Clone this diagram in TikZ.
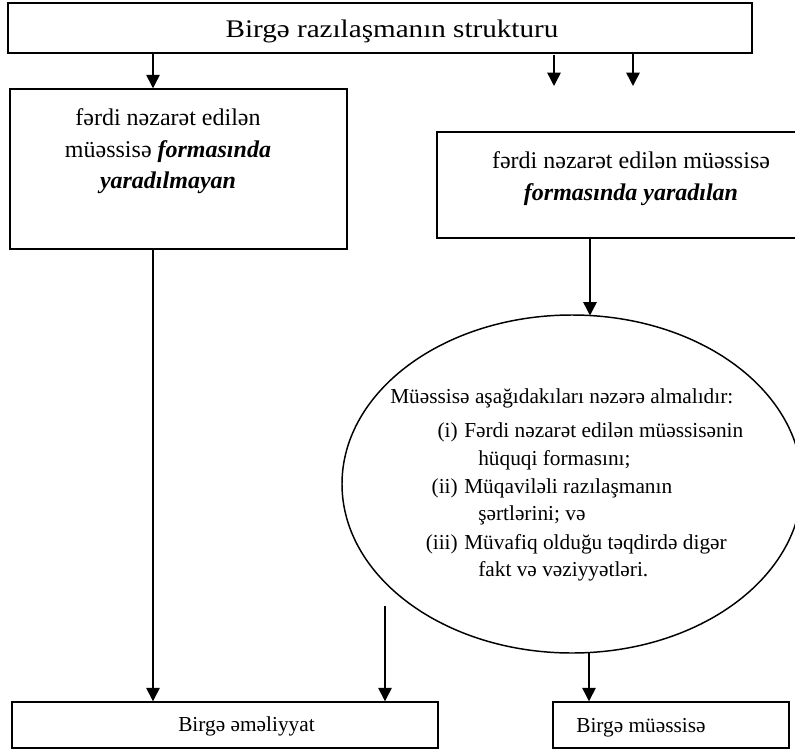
\documentclass[tikz,border=0pt]{standalone}
\usepackage{fontspec}
\setmainfont{Liberation Serif}
\usetikzlibrary{arrows.meta,shapes.geometric}
\begin{document}
\begin{tikzpicture}[x=0.75pt,y=-0.75pt,
  box/.style={draw,line width=1.1pt,rectangle,inner sep=0pt,anchor=center},
  txt/.style={inner sep=0pt,anchor=base},
  txtw/.style={inner sep=0pt,anchor=base west},
  txte/.style={inner sep=0pt,anchor=base east},
  big/.style={font=\fontsize{18}{22}\selectfont},
  mid/.style={font=\fontsize{16}{19}\selectfont},
  arr/.style={line width=1.1pt,-{Triangle[length=10pt,width=10pt]}}]
\useasboundingbox (0,0) rectangle (795,749);
% boxes
\node[box,minimum width=558pt,minimum height=37.5pt] (top) at (380,28) {};
\node[box,minimum width=252.75pt,minimum height=120pt] (lb) at (178.5,169) {};
\node[box,minimum width=294.75pt,minimum height=79.5pt] (rb) at (633.5,185) {};
\node[draw,line width=1.1pt,ellipse,inner sep=0pt,minimum width=345pt,minimum height=253.5pt] (el) at (572,484) {};
\node[box,minimum width=319.5pt,minimum height=34.5pt] (bl) at (225,725) {};
\node[box,minimum width=177pt,minimum height=34.5pt] (br) at (671,725) {};
% texts
\node[txt] (tt) at (392,38) {\scalebox{1.15}[1]{\fontsize{19}{23}\selectfont Birgə razılaşmanın strukturu}};
\node[txt,big] (l1) at (168,125) {fərdi nəzarət edilən};
\node[txt,big] (l2) at (168,157) {müəssisə \textbf{\textit{formasında}}};
\node[txt,big] (l3) at (168,188) {\textbf{\textit{yaradılmayan}}};
\node[txt,big] (r1) at (631,168) {fərdi nəzarət edilən müəssisə};
\node[txt,big] (r2) at (631,200) {\textbf{\textit{formasında yaradılan}}};
\node[txtw,mid] (e0) at (390,403) {Müəssisə aşağıdakıları nəzərə almalıdır:};
\node[txte,mid] (e1n) at (458,437) {(i)};
\node[txtw,mid] (e1) at (464,437) {Fərdi nəzarət edilən müəssisənin};
\node[txtw,mid] (e1b) at (478,465) {hüquqi formasını;};
\node[txte,mid] (e2n) at (458,493) {(ii)};
\node[txtw,mid] (e2) at (464,493) {Müqaviləli razılaşmanın};
\node[txtw,mid] (e2b) at (478,520) {şərtlərini; və};
\node[txte,mid] (e3n) at (458,549) {(iii)};
\node[txtw,mid] (e3) at (464,549) {Müvafiq olduğu təqdirdə digər};
\node[txtw,mid] (e3b) at (478,576) {fakt və vəziyyətləri.};
\node[txtw,mid] (b1) at (178,731) {Birgə əməliyyat};
\node[txtw,mid] (b2) at (576,732) {Birgə müəssisə};
% connector coordinates
\coordinate (xa) at (153,0);
\coordinate (f1s) at (554,55);
\coordinate (f1e) at (554,86);
\coordinate (xb) at (633,0);
\coordinate (f2e) at (633,86);
\coordinate (xc) at (590,0);
\coordinate (elin) at (590,315.5);
\coordinate (f3s) at (385,606);
\coordinate (elout) at (589,652.5);
% connectors
\draw[arr] (top.south -| xa) -- (lb.north -| xa);
\draw[arr] (f1s) -- (f1e);
\draw[arr] (top.south -| xb) -- (f2e);
\draw[arr] (rb.south -| xc) -- (elin);
\draw[arr] (lb.south -| xa) -- (bl.north -| xa);
\draw[arr] (f3s) -- (bl.north -| f3s);
\draw[arr] (elout) -- (br.north -| elout);
\end{tikzpicture}
\end{document}
